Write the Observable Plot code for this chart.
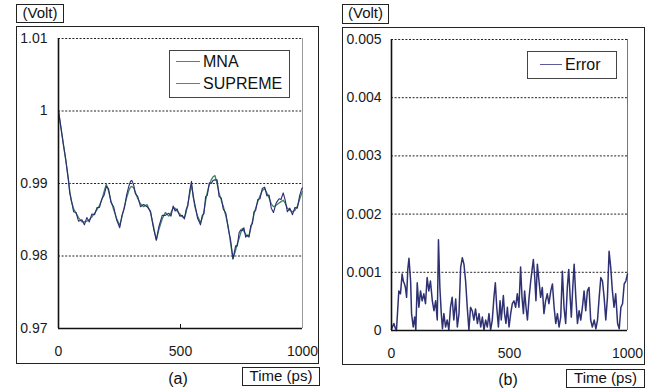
<!DOCTYPE html>
<html>
<head>
<meta charset="utf-8">
<script src="https://cdn.jsdelivr.net/npm/d3@7"></script>
<script src="https://cdn.jsdelivr.net/npm/@observablehq/plot@0.6"></script>
<style>
  html, body { margin: 0; padding: 0; background: #fff; }
  #root { position: relative; width: 657px; height: 392px; background: #fff; font-family: "Liberation Sans", Arial, sans-serif; color: #111; overflow: hidden; }
  .abs { position: absolute; box-sizing: border-box; }
  .frame { border: 1px solid #222; }
  .tag { border: 1px solid #222; font-size: 15px; text-align: center; line-height: 16px; white-space: nowrap; }
  .cap { font-size: 16px; transform: translateX(-50%); white-space: nowrap; }
  .legend { border: 1px solid #444; background: #fff; font-size: 16px; }
  .lrow { position: absolute; left: 0; white-space: nowrap; line-height: 18px; }
  .lline { display: inline-block; width: 24px; height: 0; border-top: 1px solid; vertical-align: middle; margin: 0 3px 0 6px; position: relative; top: -1px; }
</style>
</head>
<body>
<div id="root"></div>
<script>
// ---------- data ----------
const timeA = [0,10,20,30,36,41,46,51,62,72,82,96,106,116,126,137,148,158,168,178,187,196,205,215,226,238,251,260,270,279,288,295,301,308,315,325,336,349,363,377,390,401,411,425,438,452,461,470,478,486,497,507,516,523,530,538,545,552,558,570,582,589,596,603,610,618,626,633,641,650,658,667,675,686,696,705,715,726,733,740,747,753,760,767,774,781,788,795,801,808,817,826,835,845,854,863,872,881,892,904,912,921,929,938,948,959,969,979,988,997,1000];
const supreme = [1.0000,0.9977,0.9954,0.9931,0.9918,0.9904,0.9890,0.9878,0.9865,0.9859,0.9853,0.9847,0.9847,0.9848,0.9850,0.9854,0.9859,0.9864,0.9870,0.9878,0.9889,0.9899,0.9890,0.9876,0.9864,0.9852,0.9842,0.9854,0.9868,0.9880,0.9890,0.9895,0.9896,0.9894,0.9888,0.9879,0.9872,0.9868,0.9871,0.9860,0.9840,0.9822,0.9836,0.9851,0.9860,0.9855,0.9860,0.9866,0.9866,0.9862,0.9858,0.9854,0.9853,0.9860,0.9872,0.9886,0.9897,0.9885,0.9869,0.9855,0.9846,0.9852,0.9862,0.9876,0.9888,0.9898,0.9905,0.9909,0.9911,0.9900,0.9887,0.9877,0.9869,0.9855,0.9840,0.9818,0.9796,0.9808,0.9817,0.9824,0.9832,0.9838,0.9834,0.9830,0.9827,0.9829,0.9838,0.9848,0.9857,0.9866,0.9875,0.9883,0.9890,0.9893,0.9887,0.9880,0.9872,0.9868,0.9870,0.9873,0.9875,0.9877,0.9873,0.9866,0.9863,0.9861,0.9863,0.9869,0.9878,0.9887,0.9889];
const mna = [1.0000,0.9977,0.9954,0.9933,0.9916,0.9904,0.9887,0.9880,0.9861,0.9860,0.9848,0.9850,0.9843,0.9853,0.9847,0.9858,0.9857,0.9867,0.9867,0.9879,0.9884,0.9896,0.9893,0.9874,0.9868,0.9850,0.9839,0.9856,0.9866,0.9884,0.9896,0.9903,0.9904,0.9898,0.9886,0.9882,0.9868,0.9871,0.9868,0.9862,0.9837,0.9822,0.9840,0.9856,0.9856,0.9859,0.9855,0.9869,0.9862,0.9865,0.9855,0.9856,0.9851,0.9864,0.9869,0.9891,0.9903,0.9881,0.9873,0.9852,0.9843,0.9856,0.9858,0.9882,0.9884,0.9901,0.9900,0.9904,0.9905,0.9905,0.9882,0.9880,0.9865,0.9859,0.9837,0.9823,0.9796,0.9814,0.9814,0.9832,0.9836,0.9835,0.9839,0.9826,0.9829,0.9826,0.9842,0.9845,0.9861,0.9863,0.9878,0.9879,0.9893,0.9895,0.9883,0.9884,0.9866,0.9860,0.9873,0.9879,0.9878,0.9887,0.9877,0.9861,0.9866,0.9857,0.9867,0.9866,0.9883,0.9893,0.9894];

const timeB = [0,10,17,21,31,38,45,50,55,59,64,69,74,81,85,92,98,103,109,116,123,130,137,144,151,158,165,173,180,187,194,199,205,211,216,222,229,236,243,250,257,264,272,279,286,293,300,307,314,321,328,335,342,349,356,364,371,378,385,392,399,406,413,420,427,434,440,446,453,460,465,474,479,485,491,498,505,512,519,526,533,540,547,553,559,564,570,576,583,590,595,601,607,612,618,625,632,639,646,653,660,667,675,682,689,696,703,710,717,724,731,738,745,751,757,762,768,774,781,788,795,802,809,816,823,830,837,844,851,859,866,873,880,887,894,901,908,915,922,929,936,943,950,958,965,972,979,986,993,1000];
const errorV = [0.00002,0.00012,0.00003,0.00000,0.00068,0.00063,0.00097,0.00085,0.00080,0.00074,0.00057,0.00105,0.00124,0.00085,0.00029,0.00006,0.00023,0.00001,0.00082,0.00040,0.00068,0.00051,0.00063,0.00046,0.00091,0.00068,0.00085,0.00051,0.00034,0.00051,0.00018,0.00156,0.00074,0.00029,0.00003,0.00029,0.00006,0.00018,0.00001,0.00040,0.00057,0.00018,0.00054,0.00006,0.00029,0.00108,0.00125,0.00114,0.00085,0.00040,0.00001,0.00040,0.00034,0.00018,0.00037,0.00012,0.00029,0.00006,0.00023,0.00001,0.00018,0.00006,0.00029,0.00001,0.00018,0.00057,0.00082,0.00040,0.00006,0.00051,0.00018,0.00060,0.00029,0.00012,0.00040,0.00006,0.00029,0.00046,0.00051,0.00040,0.00063,0.00040,0.00109,0.00057,0.00029,0.00068,0.00040,0.00018,0.00057,0.00085,0.00102,0.00122,0.00091,0.00051,0.00114,0.00085,0.00057,0.00074,0.00029,0.00051,0.00063,0.00046,0.00068,0.00080,0.00040,0.00012,0.00029,0.00006,0.00023,0.00102,0.00040,0.00012,0.00074,0.00105,0.00057,0.00023,0.00074,0.00114,0.00057,0.00012,0.00034,0.00018,0.00040,0.00068,0.00034,0.00068,0.00074,0.00018,0.00006,0.00018,0.00003,0.00018,0.00057,0.00091,0.00085,0.00057,0.00018,0.00057,0.00136,0.00108,0.00068,0.00040,0.00063,0.00012,0.00003,0.00040,0.00046,0.00080,0.00085,0.00097];

const xTicks = [0, 500, 1000];
const xTickLabels = ["0", "500", "1000"];
const yTicksA = [0.97, 0.98, 0.99, 1.0, 1.01];
const yTickLabelsA = ["0.97", "0.98", "0.99", "1", "1.01"];
const yTicksB = [0, 0.001, 0.002, 0.003, 0.004, 0.005];
const yTickLabelsB = ["0", "0.001", "0.002", "0.003", "0.004", "0.005"];
const seriesNames = ["MNA", "SUPREME"];
const errorName = "Error";
const colors = {MNA: "#2c2c74", SUPREME: "#3f8462", Error: "#2e3172"};
const legendColors = {MNA: "#6e6ea6", SUPREME: "#4f8a6c", Error: "#5a5c98"};

// ---------- helpers ----------
const root = document.getElementById("root");
function addDiv(cls, css, html) {
  const d = document.createElement("div");
  d.className = "abs " + cls;
  Object.assign(d.style, css);
  if (html != null) d.innerHTML = html;
  root.appendChild(d);
  return d;
}
const fmt = (ticks, labels) => d => labels[ticks.findIndex(t => Math.abs(t - d) < 1e-9)];

const dataA = [];
timeA.forEach((t, i) => dataA.push({t, v: mna[i], s: "MNA"}));
timeA.forEach((t, i) => dataA.push({t, v: supreme[i], s: "SUPREME"}));
const dataB = timeB.map((t, i) => ({t, v: errorV[i]}));

const baseStyle = {fontFamily: '"Liberation Sans", Arial, sans-serif', fontSize: "14px", background: "none", color: "#1a1a1a", overflow: "visible"};

// ---------- panel (a) ----------
addDiv("frame", {left: "16px", top: "26px", width: "303px", height: "338px"});
const plotA = Plot.plot({
  width: 301, height: 336,
  marginLeft: 41, marginRight: 16, marginTop: 11, marginBottom: 35,
  style: baseStyle,
  x: {domain: [0, 1000]},
  y: {domain: [yTicksA[0], yTicksA[yTicksA.length - 1]]},
  marks: [
    Plot.ruleY(yTicksA.slice(1), {stroke: "#222", strokeDasharray: "2,1.6", strokeWidth: 1}),
    Plot.ruleX([xTicks[xTicks.length - 1]], {stroke: "#9a9a9a", strokeWidth: 1}),
    Plot.line(dataA.filter(d => d.s === "SUPREME"), {x: "t", y: "v", stroke: colors.SUPREME, strokeWidth: 1.3}),
    Plot.line(dataA.filter(d => d.s === "MNA"), {x: "t", y: "v", stroke: colors.MNA, strokeWidth: 1.1}),
    Plot.ruleX([xTicks[0]], {stroke: "#111", strokeWidth: 1.6}),
    Plot.ruleY([yTicksA[0]], {stroke: "#111", strokeWidth: 1.6}),
    Plot.ruleX([xTicks[1]], {y1: yTicksA[0], y2: yTicksA[0], insetBottom: 4, stroke: "#111", strokeWidth: 1}),
    Plot.axisX({ticks: xTicks, tickSize: 0, tickPadding: 18, tickFormat: fmt(xTicks, xTickLabels), label: null}),
    Plot.axisY({ticks: yTicksA, tickSize: 0, tickPadding: 11, tickFormat: fmt(yTicksA, yTickLabelsA), label: null})
  ]
});
plotA.style.position = "absolute";
plotA.style.left = "17px";
plotA.style.top = "27px";
root.appendChild(plotA);

addDiv("tag", {left: "16px", top: "4px", width: "48px", height: "19px"}, "(Volt)");
addDiv("cap", {left: "178px", top: "370px"}, "(a)");
addDiv("tag", {left: "242px", top: "367px", width: "78px", height: "19px"}, "Time (ps)");
const legA = addDiv("legend", {left: "169px", top: "50px", width: "121px", height: "48px"});
seriesNames.forEach((n, i) => {
  const r = document.createElement("div");
  r.className = "lrow";
  r.style.top = (2 + i * 22) + "px";
  r.innerHTML = `<span class="lline" style="border-color:${legendColors[n]}"></span>${n}`;
  legA.appendChild(r);
});

// ---------- panel (b) ----------
addDiv("frame", {left: "342px", top: "27px", width: "303px", height: "338px"});
const plotB = Plot.plot({
  width: 301, height: 336,
  marginLeft: 48, marginRight: 17, marginTop: 11, marginBottom: 34,
  style: baseStyle,
  x: {domain: [0, 1000]},
  y: {domain: [yTicksB[0], yTicksB[yTicksB.length - 1]]},
  marks: [
    Plot.ruleY(yTicksB.slice(1), {stroke: "#222", strokeDasharray: "2,1.6", strokeWidth: 1}),
    Plot.ruleX([xTicks[xTicks.length - 1]], {stroke: "#777", strokeWidth: 1}),
    Plot.line(dataB, {x: "t", y: "v", stroke: colors.Error, strokeWidth: 1.5}),
    Plot.ruleX([xTicks[0]], {stroke: "#111", strokeWidth: 1.6}),
    Plot.ruleY([yTicksB[0]], {stroke: "#111", strokeWidth: 1.6}),
    Plot.axisX({ticks: xTicks, tickSize: 0, tickPadding: 18, tickFormat: fmt(xTicks, xTickLabels), label: null}),
    Plot.axisY({ticks: yTicksB, tickSize: 0, tickPadding: 10, tickFormat: fmt(yTicksB, yTickLabelsB), label: null})
  ]
});
plotB.style.position = "absolute";
plotB.style.left = "343px";
plotB.style.top = "28px";
root.appendChild(plotB);

addDiv("tag", {left: "342px", top: "4px", width: "47px", height: "20px"}, "(Volt)");
addDiv("cap", {left: "508px", top: "371px"}, "(b)");
addDiv("tag", {left: "566px", top: "369px", width: "79px", height: "19px"}, "Time (ps)");
const legB = addDiv("legend", {left: "527px", top: "51px", width: "90px", height: "28px"});
const rb = document.createElement("div");
rb.className = "lrow";
rb.style.top = "4px";
rb.innerHTML = `<span class="lline" style="border-color:${legendColors.Error};width:22px;margin-left:12px"></span>${errorName}`;
legB.appendChild(rb);
</script>
</body>
</html>
